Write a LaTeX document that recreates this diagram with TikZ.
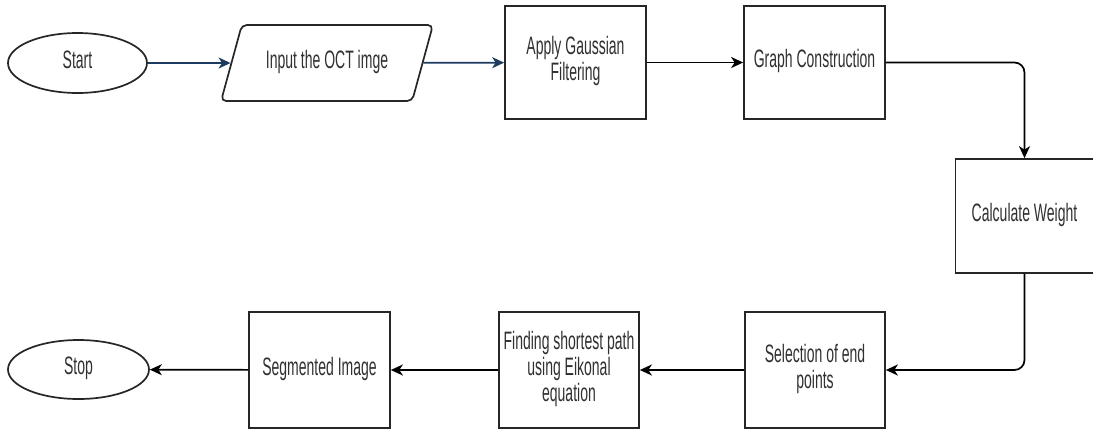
\documentclass[tikz,border=0pt]{standalone}
\usepackage{fontspec}
\usepackage{graphicx}
\setmainfont{Liberation Sans}
\usetikzlibrary{shapes.geometric,arrows.meta}

% narrow, tall lettering used in every shape
\newcommand{\tallfont}[1]{\scalebox{1}[1.8]{\fontsize{14}{14}\selectfont\begin{tabular}{@{}c@{}}#1\end{tabular}}}

\definecolor{flowink}{HTML}{262626}
\definecolor{labelink}{HTML}{303030}
\definecolor{navyline}{HTML}{1D3B5E}

\tikzset{
  procbox/.style={draw=flowink, line width=1.7pt, rectangle, inner sep=0pt,
    minimum width=141pt, minimum height=113pt, text=labelink},
  terminal/.style={draw=flowink, line width=1.7pt, ellipse, inner sep=0pt,
    minimum width=140pt, minimum height=59pt, text=labelink},
  iobox/.style={draw=flowink, line width=1.7pt, trapezium, trapezium left angle=60,
    trapezium right angle=120, trapezium stretches=true, rounded corners=5pt,
    inner sep=0pt, minimum width=212pt, minimum height=76pt, text=labelink},
  flow/.style={line width=1.7pt, draw=black, -{Stealth[length=12pt,width=11pt,inset=3.5pt]}},
  navyflow/.style={flow, draw=navyline, -{Stealth[length=12pt,width=11pt,inset=3.5pt,fill=navyline]}},
}

\begin{document}
\begin{tikzpicture}[x=1pt,y=-1pt]
  \useasboundingbox (0,0) rectangle (1093,432);

  % top row
  \node[terminal, minimum width=139pt, minimum height=60pt] (start) at (77.5,63) {\tallfont{Start}};
  \node[iobox] (input) at (327,63) {\tallfont{Input the OCT imge}};
  \node[procbox] (gauss) at (575.5,62.5) {\tallfont{Apply Gaussian\\Filtering}};
  \node[procbox] (graph) at (814.5,62.5) {\tallfont{Graph Construction}};

  % right column
  \node[procbox, minimum width=138pt, minimum height=114pt] (weight) at (1024.5,216) {\tallfont{Calculate Weight}};

  % bottom row
  \node[procbox, minimum width=140pt, minimum height=116pt] (select) at (815,370) {\tallfont{Selection of end\\points}};
  \node[procbox, minimum width=140pt, minimum height=116pt] (path) at (569,370) {\tallfont{Finding shortest path\\using Eikonal\\equation}};
  \node[procbox, minimum height=116pt] (seg) at (319.5,370) {\tallfont{Segmented Image}};
  \node[terminal, minimum width=141pt] (stop) at (78.5,369.5) {\tallfont{Stop}};

  % connectors
  \draw[navyflow] (start) -- (input);
  \draw[navyflow] (input) -- (gauss);
  \draw[flow] (gauss) -- (graph);
  \draw[flow, rounded corners=10pt] (graph.east) -| (weight.north);
  \draw[flow, rounded corners=10pt] (weight.south) |- (select.east);
  \draw[flow] (select) -- (path);
  \draw[flow] (path) -- (seg);
  \draw[flow] (seg) -- (stop);
\end{tikzpicture}
\end{document}
